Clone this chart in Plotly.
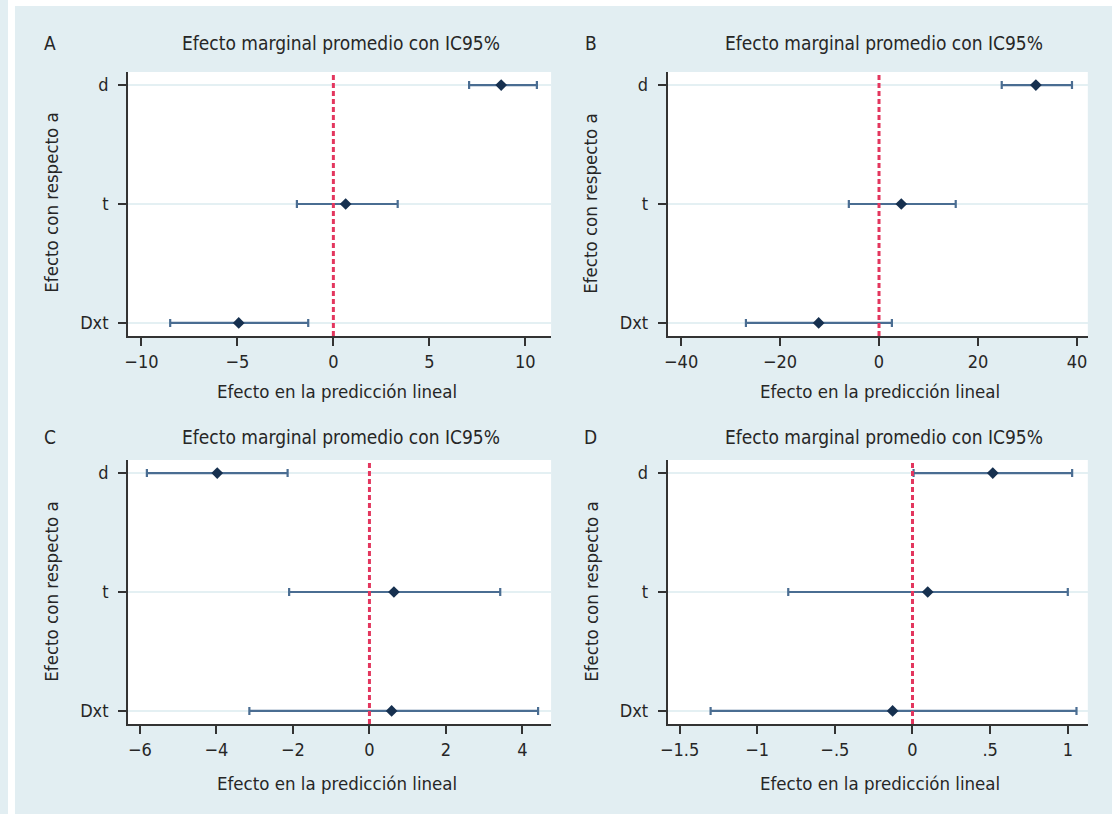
import plotly.graph_objects as go

# ---------------- data ----------------
categories = ["d", "t", "Dxt"]

panel_letters = ["A", "B", "C", "D"]
panel_title = "Efecto marginal promedio con IC95%"
x_title = "Efecto en la predicción lineal"
y_title = "Efecto con respecto a"

A_est = [8.74, 0.64, -4.93]
A_lo = [7.07, -1.90, -8.50]
A_hi = [10.60, 3.35, -1.31]

B_est = [31.7, 4.5, -12.2]
B_lo = [24.8, -6.1, -26.9]
B_hi = [39.0, 15.5, 2.6]

C_est = [-3.98, 0.64, 0.58]
C_lo = [-5.82, -2.10, -3.14]
C_hi = [-2.14, 3.42, 4.41]

D_est = [0.517, 0.098, -0.128]
D_lo = [0.007, -0.80, -1.30]
D_hi = [1.028, 1.00, 1.056]

A_ticks = [-10, -5, 0, 5, 10]
A_ticktext = ["−10", "−5", "0", "5", "10"]
B_ticks = [-40, -20, 0, 20, 40]
B_ticktext = ["−40", "−20", "0", "20", "40"]
C_ticks = [-6, -4, -2, 0, 2, 4]
C_ticktext = ["−6", "−4", "−2", "0", "2", "4"]
D_ticks = [-1.5, -1, -0.5, 0, 0.5, 1]
D_ticktext = ["−1.5", "−1", "−.5", "0", ".5", "1"]

# ---------------- layout geometry (pixels) ----------------
W, H = 1119, 814
FONT = "DejaVu Sans Condensed, Liberation Sans Narrow, sans-serif"
TXT = "#262626"
BG = "#e2eef2"
ERR = "#4a6d92"
MK = "#16304f"
RED = "#e3365e"
AX = "#333333"
GRID = "#e4f0f3"

def px(x):
    return x / W

def py(y):
    return 1 - y / H

panels = [
    dict(est=A_est, lo=A_lo, hi=A_hi, ticks=A_ticks, tt=A_ticktext, rng=[-10.69, 11.34],
         xl=121, xr=547, yt=72, yb=336, letter=(42, 43), title=(335, 43), xt=(331, 391), yt_pos=(43, 203)),
    dict(est=B_est, lo=B_lo, hi=B_hi, ticks=B_ticks, tt=B_ticktext, rng=[-42.7, 42.2],
         xl=664.5, xr=1087.6, yt=72, yb=336, letter=(587, 43), title=(882, 43), xt=(878, 391), yt_pos=(587, 204)),
    dict(est=C_est, lo=C_lo, hi=C_hi, ticks=C_ticks, tt=C_ticktext, rng=[-6.31, 4.75],
         xl=121, xr=547, yt=460, yb=724, letter=(42, 437), title=(335, 437), xt=(331, 783), yt_pos=(43, 592)),
    dict(est=D_est, lo=D_lo, hi=D_hi, ticks=D_ticks, tt=D_ticktext, rng=[-1.576, 1.129],
         xl=664.5, xr=1087.6, yt=460, yb=724, letter=(587, 437), title=(882, 437), xt=(878, 783), yt_pos=(587, 592)),
]

fig = go.Figure()
annotations = []
shapes = [
    # thin white frame around the light-blue graph region
    dict(type="rect", xref="paper", yref="paper", x0=0, x1=1, y0=py(6), y1=1,
         fillcolor="white", line=dict(width=0), layer="below"),
    dict(type="rect", xref="paper", yref="paper", x0=0, x1=px(7), y0=0, y1=1,
         fillcolor="white", line=dict(width=0), layer="below"),
    dict(type="rect", xref="paper", yref="paper", x0=px(1112), x1=1, y0=0, y1=1,
         fillcolor="white", line=dict(width=0), layer="below"),
]

for i, p in enumerate(panels):
    n = "" if i == 0 else str(i + 1)
    xa, ya = "x" + n, "y" + n
    plus = [h - e for h, e in zip(p["hi"], p["est"])]
    minus = [e - l for e, l in zip(p["est"], p["lo"])]
    fig.add_trace(go.Scatter(
        x=p["est"], y=categories, mode="markers", xaxis=xa, yaxis=ya,
        marker=dict(symbol="diamond", size=9, color=MK),
        error_x=dict(type="data", symmetric=False, array=plus, arrayminus=minus,
                     color=ERR, thickness=2.2, width=4),
        showlegend=False, cliponaxis=False,
    ))
    fig.layout["xaxis" + n] = dict(
        domain=[px(p["xl"]), px(p["xr"])], anchor=ya, range=p["rng"],
        tickvals=p["ticks"], ticktext=p["tt"], showgrid=False, zeroline=False,
        showline=True, linecolor=AX, linewidth=2,
        ticks="outside", ticklen=8, tickwidth=2, tickcolor=AX,
        tickfont=dict(family=FONT, size=18, color=TXT),
    )
    fig.layout["yaxis" + n] = dict(
        domain=[py(p["yb"]), py(p["yt"])], anchor=xa, type="category",
        categoryorder="array", categoryarray=categories[::-1], range=[-0.11, 2.11],
        showgrid=True, gridcolor=GRID, gridwidth=1.5, zeroline=False,
        showline=True, linecolor=AX, linewidth=2,
        ticks="outside", ticklen=8, tickwidth=2, tickcolor=AX,
        tickfont=dict(family=FONT, size=18, color=TXT), ticklabelstandoff=6,
    )
    shapes.append(dict(type="line", xref=xa, yref=ya + " domain", x0=0, x1=0, y0=0, y1=1,
                       line=dict(color=RED, width=3, dash="5px,3px"), layer="above"))
    annotations.append(dict(text=panel_letters[i], x=px(p["letter"][0]), y=py(p["letter"][1]),
                            xref="paper", yref="paper", showarrow=False, xanchor="center", yanchor="middle",
                            font=dict(family=FONT, size=19, color=TXT)))
    annotations.append(dict(text=panel_title, x=px(p["title"][0]), y=py(p["title"][1]),
                            xref="paper", yref="paper", showarrow=False, xanchor="center", yanchor="middle",
                            font=dict(family=FONT, size=19, color=TXT)))
    annotations.append(dict(text=x_title, x=px(p["xt"][0]), y=py(p["xt"][1]),
                            xref="paper", yref="paper", showarrow=False, xanchor="center", yanchor="middle",
                            font=dict(family=FONT, size=18.5, color=TXT)))
    annotations.append(dict(text=y_title, x=px(p["yt_pos"][0]), y=py(p["yt_pos"][1]), textangle=-90,
                            xref="paper", yref="paper", showarrow=False, xanchor="center", yanchor="middle",
                            font=dict(family=FONT, size=18.5, color=TXT)))

fig.update_layout(
    width=W, height=H, margin=dict(l=0, r=0, t=0, b=0),
    paper_bgcolor=BG, plot_bgcolor="white",
    shapes=shapes, annotations=annotations,
    font=dict(family=FONT, color=TXT),
)

fig.write_html("out.html", config={"displayModeBar": False},
               post_script="document.body.style.margin='0';")
